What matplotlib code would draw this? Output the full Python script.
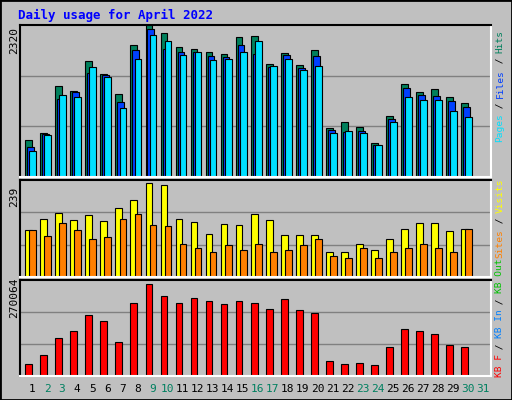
import matplotlib
matplotlib.use("Agg")
import matplotlib.pyplot as plt
import numpy as np

days = list(range(1, 32))
weekend = [2, 3, 9, 10, 16, 17, 23, 24, 30, 31]
hits = [572, 668, 1394, 1315, 1773, 1568, 1268, 2010, 2325, 2199, 1978, 1947, 1915, 1884, 2136, 2152, 1726, 1899, 1710, 1931, 747, 842, 763, 526, 936, 1420, 1294, 1341, 1215, 1136]
files = [463, 652, 1194, 1294, 1589, 1552, 1147, 1931, 2262, 1947, 1915, 1915, 1852, 1831, 2010, 1884, 1678, 1868, 1657, 1852, 710, 684, 699, 494, 889, 1357, 1252, 1236, 1157, 1063]
pages = [400, 636, 1247, 1215, 1678, 1520, 1052, 1805, 2167, 2073, 1868, 1915, 1789, 1805, 1915, 2073, 1689, 1805, 1626, 1689, 668, 699, 668, 494, 842, 1215, 1168, 1168, 1010, 916]
visits = [118, 146, 161, 143, 156, 141, 174, 194, 236, 231, 146, 138, 108, 133, 131, 159, 143, 105, 105, 105, 64, 62, 82, 69, 95, 120, 136, 136, 115, 120]
sites = [118, 103, 136, 118, 95, 100, 146, 159, 131, 129, 82, 72, 64, 80, 69, 82, 64, 67, 80, 95, 54, 49, 72, 49, 62, 72, 82, 72, 64, 120]
kbytes = [36466, 60122, 110390, 131090, 178401, 160659, 98562, 213886, 270064, 234577, 213886, 228671, 219799, 210929, 219799, 213886, 196143, 225714, 193186, 184315, 45337, 36466, 39423, 33509, 83778, 137004, 131090, 122219, 89692, 83778]
top_labels = ["2320", "239", "270064"]

BG = "#c0c0c0"
W, H = 512, 400
fig = plt.figure(figsize=(W/100, H/100), dpi=100, facecolor=BG)
mono = "DejaVu Sans Mono"

def ax_px(x0, y0, x1, y1):
    a = fig.add_axes([x0/W, 1-y1/H, (x1-x0)/W, (y1-y0)/H])
    a.set_facecolor(BG)
    for s in a.spines.values():
        s.set_color("white"); s.set_linewidth(1.5)
    a.spines["top"].set_color("black"); a.spines["left"].set_color("black")
    a.set_xticks([]); a.set_yticks([])
    a.set_xlim(0, 31.33)
    return a

n = len(hits)
x = np.arange(n)
bw = 0.45
ek = dict(edgecolor="black", linewidth=0.8, align="edge")

a1 = ax_px(20, 25, 491, 177)
a1.set_ylim(0, 2320)
for g in (1/3, 2/3):
    a1.axhline(2320*g, color="#808080", lw=1, zorder=0)
a1.bar(x+0.35, hits, bw, color="#00805c", **ek)
a1.bar(x+0.48, files, bw, color="#0040ff", **ek)
a1.bar(x+0.62, pages, bw, color="#00e0ff", **ek)

a2 = ax_px(20, 180, 491, 277)
a2.set_ylim(0, 239*1.02)
for g in (1/3, 2/3):
    a2.axhline(239*1.02*g, color="#808080", lw=1, zorder=0)
a2.bar(x+0.35, visits, bw, color="#ffff00", **ek)
a2.bar(x+0.62, sites, bw, color="#ff8000", **ek)

a3 = ax_px(20, 280, 491, 376)
a3.set_ylim(0, 270064*1.04)
for g in (1/3, 2/3):
    a3.axhline(270064*1.04*g, color="#808080", lw=1, zorder=0)
a3.bar(x+0.35, kbytes, bw, color="#ff0000", **ek)

for d in days:
    fig.text((20 + (d-1+0.8)*15.03)/W, 1-389/H, str(d), ha="center", va="center",
             fontsize=8, family=mono, color="#008060" if d in weekend else "black")

fig.text(18/W, 1-15/H, "Daily usage for April 2022", fontsize=9, family=mono,
         weight="bold", color="#0000ff", va="center")

for yc, lab in zip((40, 197, 298), top_labels):
    fig.text(14/W, 1-yc/H, lab, rotation=90, ha="center", va="center",
             fontsize=8, family=mono)

CH = 5.6
def right_label(parts, yc):
    total = sum(len(p) for p, _ in parts)
    y = yc + total*CH/2
    for p, c in parts:
        if p.strip():
            fig.text(500/W, 1-(y - len(p)*CH/2)/H, p, rotation=90, ha="center", va="center",
                     fontsize=6.8, family=mono, color=c)
        y -= len(p)*CH

right_label([("Pages", "#00e0ff"), (" / ", "#000000"), ("Files", "#0040ff"), (" / ", "#000000"), ("Hits", "#00805c")], 86)
right_label([("Sites", "#ff8000"), (" / ", "#000000"), ("Visits", "#ffff00")], 218)
right_label([("KB F", "#ff0000"), (" / ", "#000000"), ("KB In", "#0080ff"), (" / ", "#000000"), ("KB Out", "#00c000")], 318)

fig.patches.append(matplotlib.patches.Rectangle((0, 0), 1, 1, transform=fig.transFigure,
                   fill=False, edgecolor="black", lw=2))
fig.savefig("out.png", dpi=100, facecolor=BG)
